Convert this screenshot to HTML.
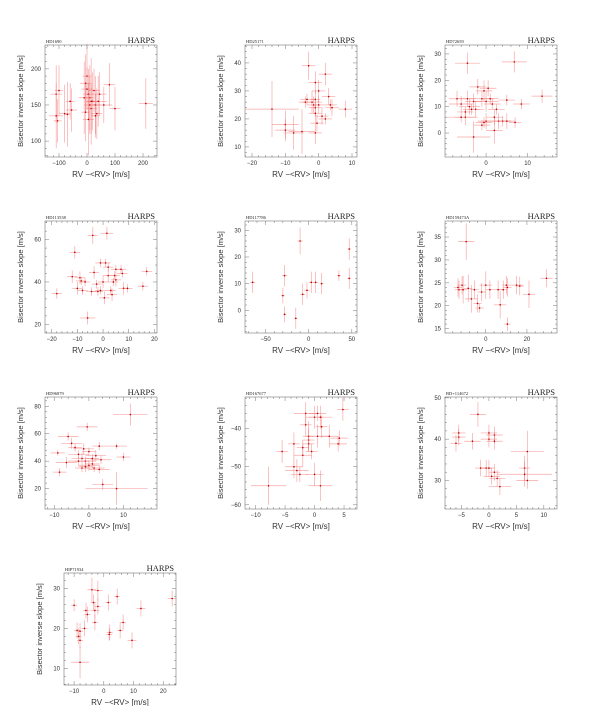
<!DOCTYPE html>
<html><head><meta charset="utf-8"><style>
html,body{margin:0;padding:0;background:#fff;}
svg{display:block;}
text{font-family:"Liberation Sans",sans-serif;fill:#333;}
text.serif{font-family:"Liberation Serif",serif;fill:#222;}
</style></head><body>
<svg id="fig" width="600" height="706" viewBox="0 0 600 706"></svg>
<script>
// ---------- data (per panel) ----------
const p1Name="HD1690";
const p1Rv=[-110,-100,-110,-105,-80,-60,-55,-70,0,-5,0,5,10,10,15,20,25,30,35,40,45,5,-5,80,100,210,15,30,-10,60];
const p1Bis=[165,170,135,128,138,155,143,137,190,180,172,165,160,150,145,155,170,150,138,155,165,130,140,178,145,152,155,135,160,150];
const p1RvErr=[20,15,25,15,20,15,20,10,15,20,20,20,15,20,20,25,20,20,20,30,25,20,15,20,20,25,15,15,20,30];
const p1BisErr=[40,35,45,30,40,25,30,45,45,40,30,35,45,40,35,40,30,40,35,35,30,50,40,30,30,35,60,30,50,25];

const p2Name="HD25171";
const p2Rv=[-14,-10,-10,-7.5,-5,-3,-2,-1,-1,-1.5,-1,-1,0,0,1,2,3,3.5,4,8,-3.5,-1,-0.5,2,-4];
const p2Bis=[23.5,18,16,15,15.5,39,26,33,27,25,24,22,30,25,21,36,28,25,24,23.5,27,15,18.5,20,26];
const p2RvErr=[8,4,3,3,4,2,3,2,1.5,2,2,2,2,1.5,2,2,2,2,2,2,2,2,2,2,2];
const p2BisErr=[10,5,4,6,8,5,4,4,3,3,3,3,4,3,3,4,3,2,3,3,2,4,3,2,2];

const p3Name="HD72659";
const p3Rv=[-4.5,6.8,13.5,8.5,-7,-6,-5,-4.5,-4,-3,-2.5,-2,-1,-0.5,0,0.5,1,1.5,2.5,-3,-1,-0.5,0,2,3,4,5,7,5,-5,-6,2,-3.5];
const p3Bis=[26.5,27,14,11,13,11,6,13,10,12,9,17.5,13,16,12,17,13,11,9,-1.5,3,4,4.5,1,4.5,4.5,4.5,4,12.5,8,6,6,9];
const p3RvErr=[3,3,2.5,2,2,3,2.5,2,2.5,2,2,2,3,2,3,2,2,2,2,4,2,2,2,2,3,2,2,1.5,2,2,4,2,2];
const p3BisErr=[4,4,2.5,2,3,3,3,3,3,3,3,3,3,4,4,3,2,2,2,6,2,2,3,5,3,2,3,2,2,2,2,3,2];

const p4Name="HD113538";
const p4Rv=[-18,-11,-12,-10,-9,-8.5,-8,-7,-6,-4,-3.5,-4.5,-2,-2.5,-1,0,0.5,1,1.5,2,2,3,3.5,4,5,4.5,5,7,7.5,8,9.5,15.5,17,-1];
const p4Bis=[34.5,54,42.5,37,42,40.5,36,40,23,62,44.5,35.5,35.5,39,49,40,32.5,49,63,47,43,36,34,40,46,43,41,46,44,37,37,38,45,36];
const p4RvErr=[2,2,2,2,2,2,2,2,3,2,2,2,2,2,2,2,2,2,2.5,2,2,2,2,2,2,2,2,2,2,2,2,2,2,2];
const p4BisErr=[2.5,3,3,3,3,2,2,2,3,4,3,2,2,2,2,3,3,2,3,2,3,2,3,2,2,2,3,2,2,3,2,2,2,2];

const p5Name="HD117786";
const p5Rv=[-65,-30,-28,-28,-15,-10,-7,-2,3,8,15,35,47,47];
const p5Bis=[10.5,5.5,13,-1.5,-3,26,6,7.5,10.5,10.5,10,13,23,12];
const p5RvErr=[3,2,3,2,2,3,3,3,3,3,2,2,2,2];
const p5BisErr=[4,3,4,3,4,5,4,3,4,4,4,2,4,4];

const p6Name="HD159473A";
const p6Rv=[-13,-11.5,-11,-8.5,-9.5,-7,-5.5,-4,-3,-2,0,2,6,7,8.5,10,10.5,10.5,15,16.5,21,29.5,-13.5];
const p6Bis=[23.5,24.5,23.5,23.8,34,21.5,23.5,20.5,19.5,23,24.5,23.5,23.5,20.2,23.5,24.5,24,16,24.5,24.3,22.5,26,24];
const p6RvErr=[2,2,2,2,4,3,2,2,2,2,3,2,2,3,2,2,2,1.5,3,2,3,3,2];
const p6BisErr=[2,2,3,3,4,3,2,2,1,2,3,2,2,3,2,2,2,1.5,2,2,3,2,2];

const p7Name="HD96879";
const p7Rv=[12,10,8,4,8,-0.5,-9,-8.5,-6,-5,-6.5,-4,-3,-2,-1.5,0,-1,0,1,-2,1.5,2,3,3.5,-3,-1,1,3];
const p7Bis=[74,43,51,23,20,65,46,32,58,53,39,50,45,42,49,47,40,37,38,35,35,44,51,41,40,36,42,34];
const p7RvErr=[5,2,3,3,9,3,2,2,3,3,3,2,3,3,3,2,3,3,2,2,3,3,2,3,3,2,2,3];
const p7BisErr=[8,3,2,4,12,3,2,3,3,4,4,3,3,4,4,3,3,4,3,3,3,4,3,3,3,4,3,3];

const p8Name="HD167677";
const p8Rv=[-7.8,-5.5,-3.5,-3.5,-3,-2.5,-2,-1.5,-1.5,-1,-1,-2,-1,0,0.5,1,0.5,1.2,2.5,4.2,4,4.8,0,1,-0.5];
const p8Bis=[-55,-46,-44,-50,-51,-52,-47,-36,-39,-43,-44,-45,-42,-37,-36,-37,-42,-39.5,-42,-42.5,-44,-35,-52,-55,-46];
const p8RvErr=[3,1,1,1.5,2,1.5,1.5,2,1,1,1,1,1,1.5,1.5,2,2,1,1.5,1.5,1.5,1,1.5,2,1];
const p8BisErr=[5,3,3,3,3,2,3,3,3,3,2,2,4,3,2,3,3,3,3,2,2,3,3,4,2];

const p9Name="BD+114672";
const p9Rv=[-5.5,-5.5,-6,-3,-2,0,0,1,1,-1.5,-0.5,0.5,1,1.5,2,6.5,6.5,7,7,0];
const p9Bis=[40.5,41.5,39,39.5,46,40,41.5,41,39.5,33,33,31,32,30.5,28.5,33,31.5,37,30,33];
const p9RvErr=[1.2,1.2,1,1.5,1.5,1.5,1.5,1.5,1.5,1,1,1.5,1,1.5,2,1,5,3,2,1];
const p9BisErr=[2,2,2,2,3,2,2,2,2,2,2,2,2,2,2,3,3,5,2,2];

const p10Name="HIP71934";
const p10Rv=[-10,-9,-8.5,-8,-8,-8,-6.5,-6,-5.5,-4,-3.5,-3,-3,-2,-2,1.5,2,1.8,4.5,5.5,6.5,9.5,12.5,23];
const p10Bis=[25.8,19.5,18,19.3,17,11.5,20,24.5,23.5,29.7,26.5,24.5,21.5,25.5,29.5,26.5,19,18.5,28,19.5,21.5,17,25,27.5];
const p10RvErr=[1,1,1,1,1,3,1,1,1,1.5,1,1.5,1,1,1.5,1,1,1,1,1,1,1.5,1.5,1.5];
const p10BisErr=[1.5,2,2,2,2,4,2,2,2,3,2,2,2,2,2.5,2,2,1.5,2,2,2,2,2,2];

// axis ranges and ticks (data units)
const p1XRange=[-150,250], p1YRange=[78,233], p1XTicks=[-100,0,100,200], p1YTicks=[100,150,200];
const p2XRange=[-22.1,11.5], p2YRange=[6.4,46.4], p2XTicks=[-20,-10,0,10], p2YTicks=[10,20,30,40];
const p3XRange=[-9.9,17.1], p3YRange=[-9.1,33.4], p3XTicks=[0,10], p3YTicks=[0,10,20,30];
const p4XRange=[-22.6,21], p4YRange=[15.9,68.8], p4XTicks=[-20,-10,0,10,20], p4YTicks=[20,40,60];
const p5XRange=[-73.9,56], p5YRange=[-8.5,33.5], p5XTicks=[-50,0,50], p5YTicks=[0,10,20,30];
const p6XRange=[-19.8,34.6], p6YRange=[14.05,38.5], p6XTicks=[0,20], p6YTicks=[15,20,25,30,35];
const p7XRange=[-12.7,19.7], p7YRange=[5.1,86.8], p7XTicks=[-10,0,10], p7YTicks=[20,40,60,80];
const p8XRange=[-11.8,7.2], p8YRange=[-61.1,-31.7], p8XTicks=[-10,-5,0,5], p8YTicks=[-60,-50,-40];
const p9XRange=[-8,12.4], p9YRange=[23.1,50.2], p9XTicks=[-5,0,5,10], p9YTicks=[30,40,50];
const p10XRange=[-13.4,24.3], p10YRange=[5.8,33.9], p10XTicks=[-10,0,10,20], p10YTicks=[10,20,30];

const panels=[
 {name:p1Name,rv:p1Rv,bis:p1Bis,rvE:p1RvErr,bisE:p1BisErr,xr:p1XRange,yr:p1YRange,xt:p1XTicks,yt:p1YTicks,left:45,top:45},
 {name:p2Name,rv:p2Rv,bis:p2Bis,rvE:p2RvErr,bisE:p2BisErr,xr:p2XRange,yr:p2YRange,xt:p2XTicks,yt:p2YTicks,left:245,top:45},
 {name:p3Name,rv:p3Rv,bis:p3Bis,rvE:p3RvErr,bisE:p3BisErr,xr:p3XRange,yr:p3YRange,xt:p3XTicks,yt:p3YTicks,left:445,top:45},
 {name:p4Name,rv:p4Rv,bis:p4Bis,rvE:p4RvErr,bisE:p4BisErr,xr:p4XRange,yr:p4YRange,xt:p4XTicks,yt:p4YTicks,left:45,top:221},
 {name:p5Name,rv:p5Rv,bis:p5Bis,rvE:p5RvErr,bisE:p5BisErr,xr:p5XRange,yr:p5YRange,xt:p5XTicks,yt:p5YTicks,left:245,top:221},
 {name:p6Name,rv:p6Rv,bis:p6Bis,rvE:p6RvErr,bisE:p6BisErr,xr:p6XRange,yr:p6YRange,xt:p6XTicks,yt:p6YTicks,left:445,top:221},
 {name:p7Name,rv:p7Rv,bis:p7Bis,rvE:p7RvErr,bisE:p7BisErr,xr:p7XRange,yr:p7YRange,xt:p7XTicks,yt:p7YTicks,left:45,top:397},
 {name:p8Name,rv:p8Rv,bis:p8Bis,rvE:p8RvErr,bisE:p8BisErr,xr:p8XRange,yr:p8YRange,xt:p8XTicks,yt:p8YTicks,left:245,top:397},
 {name:p9Name,rv:p9Rv,bis:p9Bis,rvE:p9RvErr,bisE:p9BisErr,xr:p9XRange,yr:p9YRange,xt:p9XTicks,yt:p9YTicks,left:445,top:397},
 {name:p10Name,rv:p10Rv,bis:p10Bis,rvE:p10RvErr,bisE:p10BisErr,xr:p10XRange,yr:p10YRange,xt:p10XTicks,yt:p10YTicks,left:64,top:573}
];

const NS="http://www.w3.org/2000/svg";
const svg=document.getElementById('fig');
const W=112,H=112;
function mk(tag,attrs,parent){const e=document.createElementNS(NS,tag);for(const k in attrs)e.setAttribute(k,attrs[k]);parent.appendChild(e);return e;}

panels.forEach((p,pi)=>{
  const g=mk('g',{},svg);
  
  
  const L=p.left,T=p.top;
  const sx=v=>L+(v-p.xr[0])/(p.xr[1]-p.xr[0])*W;
  const sy=v=>T+H-(v-p.yr[0])/(p.yr[1]-p.yr[0])*H;
  const marks=mk('g',{},g);
  
  
  for(let i=0;i<p.rv.length;i++){
    const x=sx(p.rv[i]),y=sy(p.bis[i]);
    const pt=mk('g',{},marks);
    
    
    mk('line',{x1:sx(p.rv[i]-p.rvE[i]),x2:sx(p.rv[i]+p.rvE[i]),y1:y,y2:y,stroke:'#f06060','stroke-width':0.7,'stroke-opacity':0.55},pt);
    mk('line',{x1:x,x2:x,y1:sy(p.bis[i]-p.bisE[i]),y2:sy(p.bis[i]+p.bisE[i]),stroke:'#f06060','stroke-width':0.7,'stroke-opacity':0.55},pt);
    mk('circle',{cx:x,cy:y,r:0.8,fill:'#c00000'},pt);
  }
  const fr=mk('rect',{x:L,y:T,width:W,height:H,fill:'none',stroke:'#777','stroke-width':0.6},g);
  
  
  const xs=p.xt[1]-p.xt[0];
  for(let v=p.xt[0]-xs;v<=p.xr[1];v+=xs/5){
    if(v<p.xr[0])continue;const x=sx(v);
    const major=p.xt.some(t=>Math.abs(t-v)<1e-6);const len=major?4:2;
    mk('line',{x1:x,x2:x,y1:T+H,y2:T+H-len,stroke:'#777','stroke-width':0.5},g);
    mk('line',{x1:x,x2:x,y1:T,y2:T+len,stroke:'#777','stroke-width':0.5},g);
  }
  p.xt.forEach(v=>{const t=mk('text',{x:sx(v),y:T+H+8,'font-size':6,'text-anchor':'middle'},g);t.textContent=v<0?'\u2212'+(-v):v;
    });
  const ys=p.yt[1]-p.yt[0];
  for(let v=p.yt[0]-ys;v<=p.yr[1];v+=ys/5){
    if(v<p.yr[0])continue;const y=sy(v);
    const major=p.yt.some(t=>Math.abs(t-v)<1e-6);const len=major?4:2;
    mk('line',{x1:L,x2:L+len,y1:y,y2:y,stroke:'#777','stroke-width':0.5},g);
    mk('line',{x1:L+W,x2:L+W-len,y1:y,y2:y,stroke:'#777','stroke-width':0.5},g);
  }
  p.yt.forEach(v=>{const t=mk('text',{x:L-4,y:sy(v)+2,'font-size':6,'text-anchor':'end'},g);t.textContent=v<0?'\u2212'+(-v):v;
    });
  const st=mk('text',{x:L+1,y:T-2,'font-size':4.5,'class':'serif'},g);st.textContent=p.name;
  
  const hp=mk('text',{x:L+W-2,y:T-2,'font-size':8.5,'text-anchor':'end','class':'serif'},g);hp.textContent='HARPS';
  
  const xl=mk('text',{x:L+W/2,y:T+H+20,'font-size':8,'text-anchor':'middle'},g);xl.textContent='RV \u2212<RV> [m/s]';
  
  const yl=mk('text',{x:0,y:0,'font-size':7.5,'text-anchor':'middle',transform:`translate(${L-22},${T+H/2}) rotate(-90)`},g);yl.textContent='Bisector inverse slope [m/s]';
  
});
</script>
</body></html>
